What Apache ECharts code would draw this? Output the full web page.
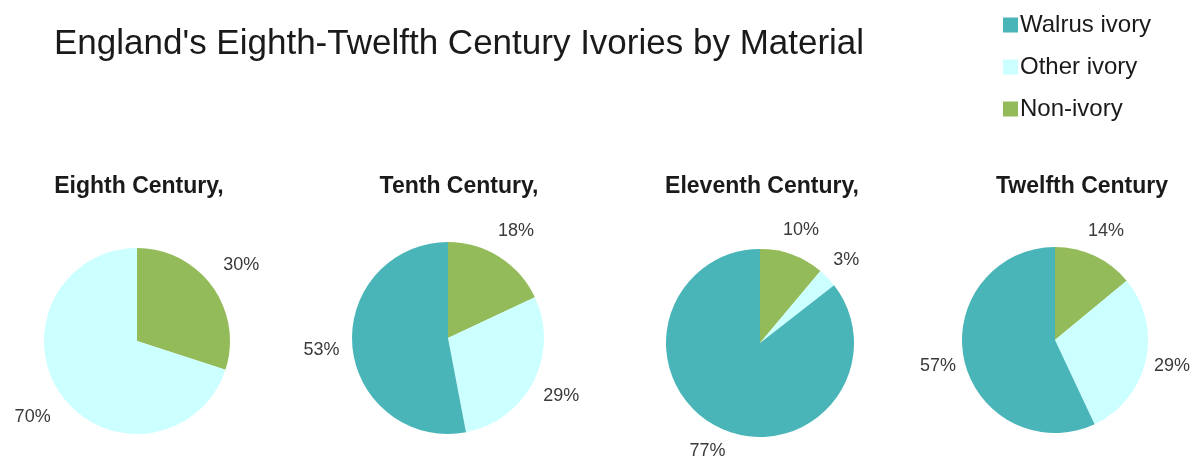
<!DOCTYPE html>
<html>
<head>
<meta charset="utf-8">
<script src="https://cdn.jsdelivr.net/npm/echarts@6/dist/echarts.min.js"></script>
<style>
  html, body { margin: 0; padding: 0; background: #ffffff; }
  #chart { width: 1193px; height: 457px; }
</style>
</head>
<body>
<div id="chart"></div>
<script>
// ---- Data ----
const chartTitle = "England's Eighth-Twelfth Century Ivories by Material";
const centuries = ['Eighth Century,', 'Tenth Century,', 'Eleventh Century,', 'Twelfth Century'];
const categories = ['Non-ivory', 'Other ivory', 'Walrus ivory'];
const legendOrder = ['Walrus ivory', 'Other ivory', 'Non-ivory'];
const nonIvory = [30, 18, 10, 14];
const otherIvory = [70, 29, 3, 29];
const walrusIvory = [0, 53, 77, 57];

// ---- Layout / style ----
const colors = { 'Non-ivory': '#94BB5A', 'Other ivory': '#CCFFFF', 'Walrus ivory': '#4AB5B8' };
const pieCenters = [[137, 341], [448, 338], [760, 343], [1055, 340]];
const pieRadii = [93, 96, 94, 93];
const labelRadii = [126, 124, 117, 117];
const subtitleX = [134, 454, 757, 1077];
const FONT = '"Liberation Sans", Arial, sans-serif';

const series = [];
const labelSeries = [];
centuries.forEach(function (c, i) {
  const vals = [nonIvory[i], otherIvory[i], walrusIvory[i]];
  const data = categories.map(function (name, k) {
    return { name: name, value: vals[k], itemStyle: { color: colors[name] } };
  });
  series.push({
    type: 'pie',
    name: c,
    center: pieCenters[i],
    radius: [0, pieRadii[i]],
    startAngle: 90,
    clockwise: true,
    avoidLabelOverlap: false,
    silent: true,
    label: { show: false },
    labelLine: { show: false },
    itemStyle: { borderWidth: 0 },
    data: data
  });
  labelSeries.push({
    type: 'pie',
    name: c + ' labels',
    center: pieCenters[i],
    radius: [0, labelRadii[i] * 2],
    startAngle: 90,
    clockwise: true,
    avoidLabelOverlap: false,
    silent: true,
    z: 5,
    itemStyle: { color: 'rgba(0,0,0,0)', borderWidth: 0 },
    label: {
      show: true,
      position: 'inside',
      color: '#3a3a3a',
      fontFamily: FONT,
      fontSize: 18,
      formatter: function (p) { return p.value ? p.value + '%' : ''; }
    },
    labelLine: { show: false },
    emphasis: { disabled: true },
    data: data.map(function (d) { return { name: d.name, value: d.value }; })
  });
});

const titles = [{
  text: chartTitle,
  left: 49,
  top: 22,
  textStyle: { fontFamily: FONT, fontSize: 35, fontWeight: 'normal', color: '#1a1a1a' }
}];
centuries.forEach(function (c, i) {
  titles.push({
    text: c,
    left: subtitleX[i],
    top: 170,
    textAlign: 'center',
    textStyle: { fontFamily: FONT, fontSize: 23, fontWeight: 'bold', color: '#1a1a1a' }
  });
});

const chart = echarts.init(document.getElementById('chart'));
chart.setOption({
  animation: false,
  backgroundColor: '#ffffff',
  title: titles,
  legend: {
    orient: 'vertical',
    left: 998,
    top: 8,
    data: legendOrder,
    icon: 'rect',
    itemWidth: 15,
    itemHeight: 15,
    itemGap: 18,
    textStyle: { fontFamily: FONT, fontSize: 24, color: '#1a1a1a', padding: [0, 0, 0, -3] },
    selectedMode: false
  },
  series: series.concat(labelSeries)
});
</script>
</body>
</html>
